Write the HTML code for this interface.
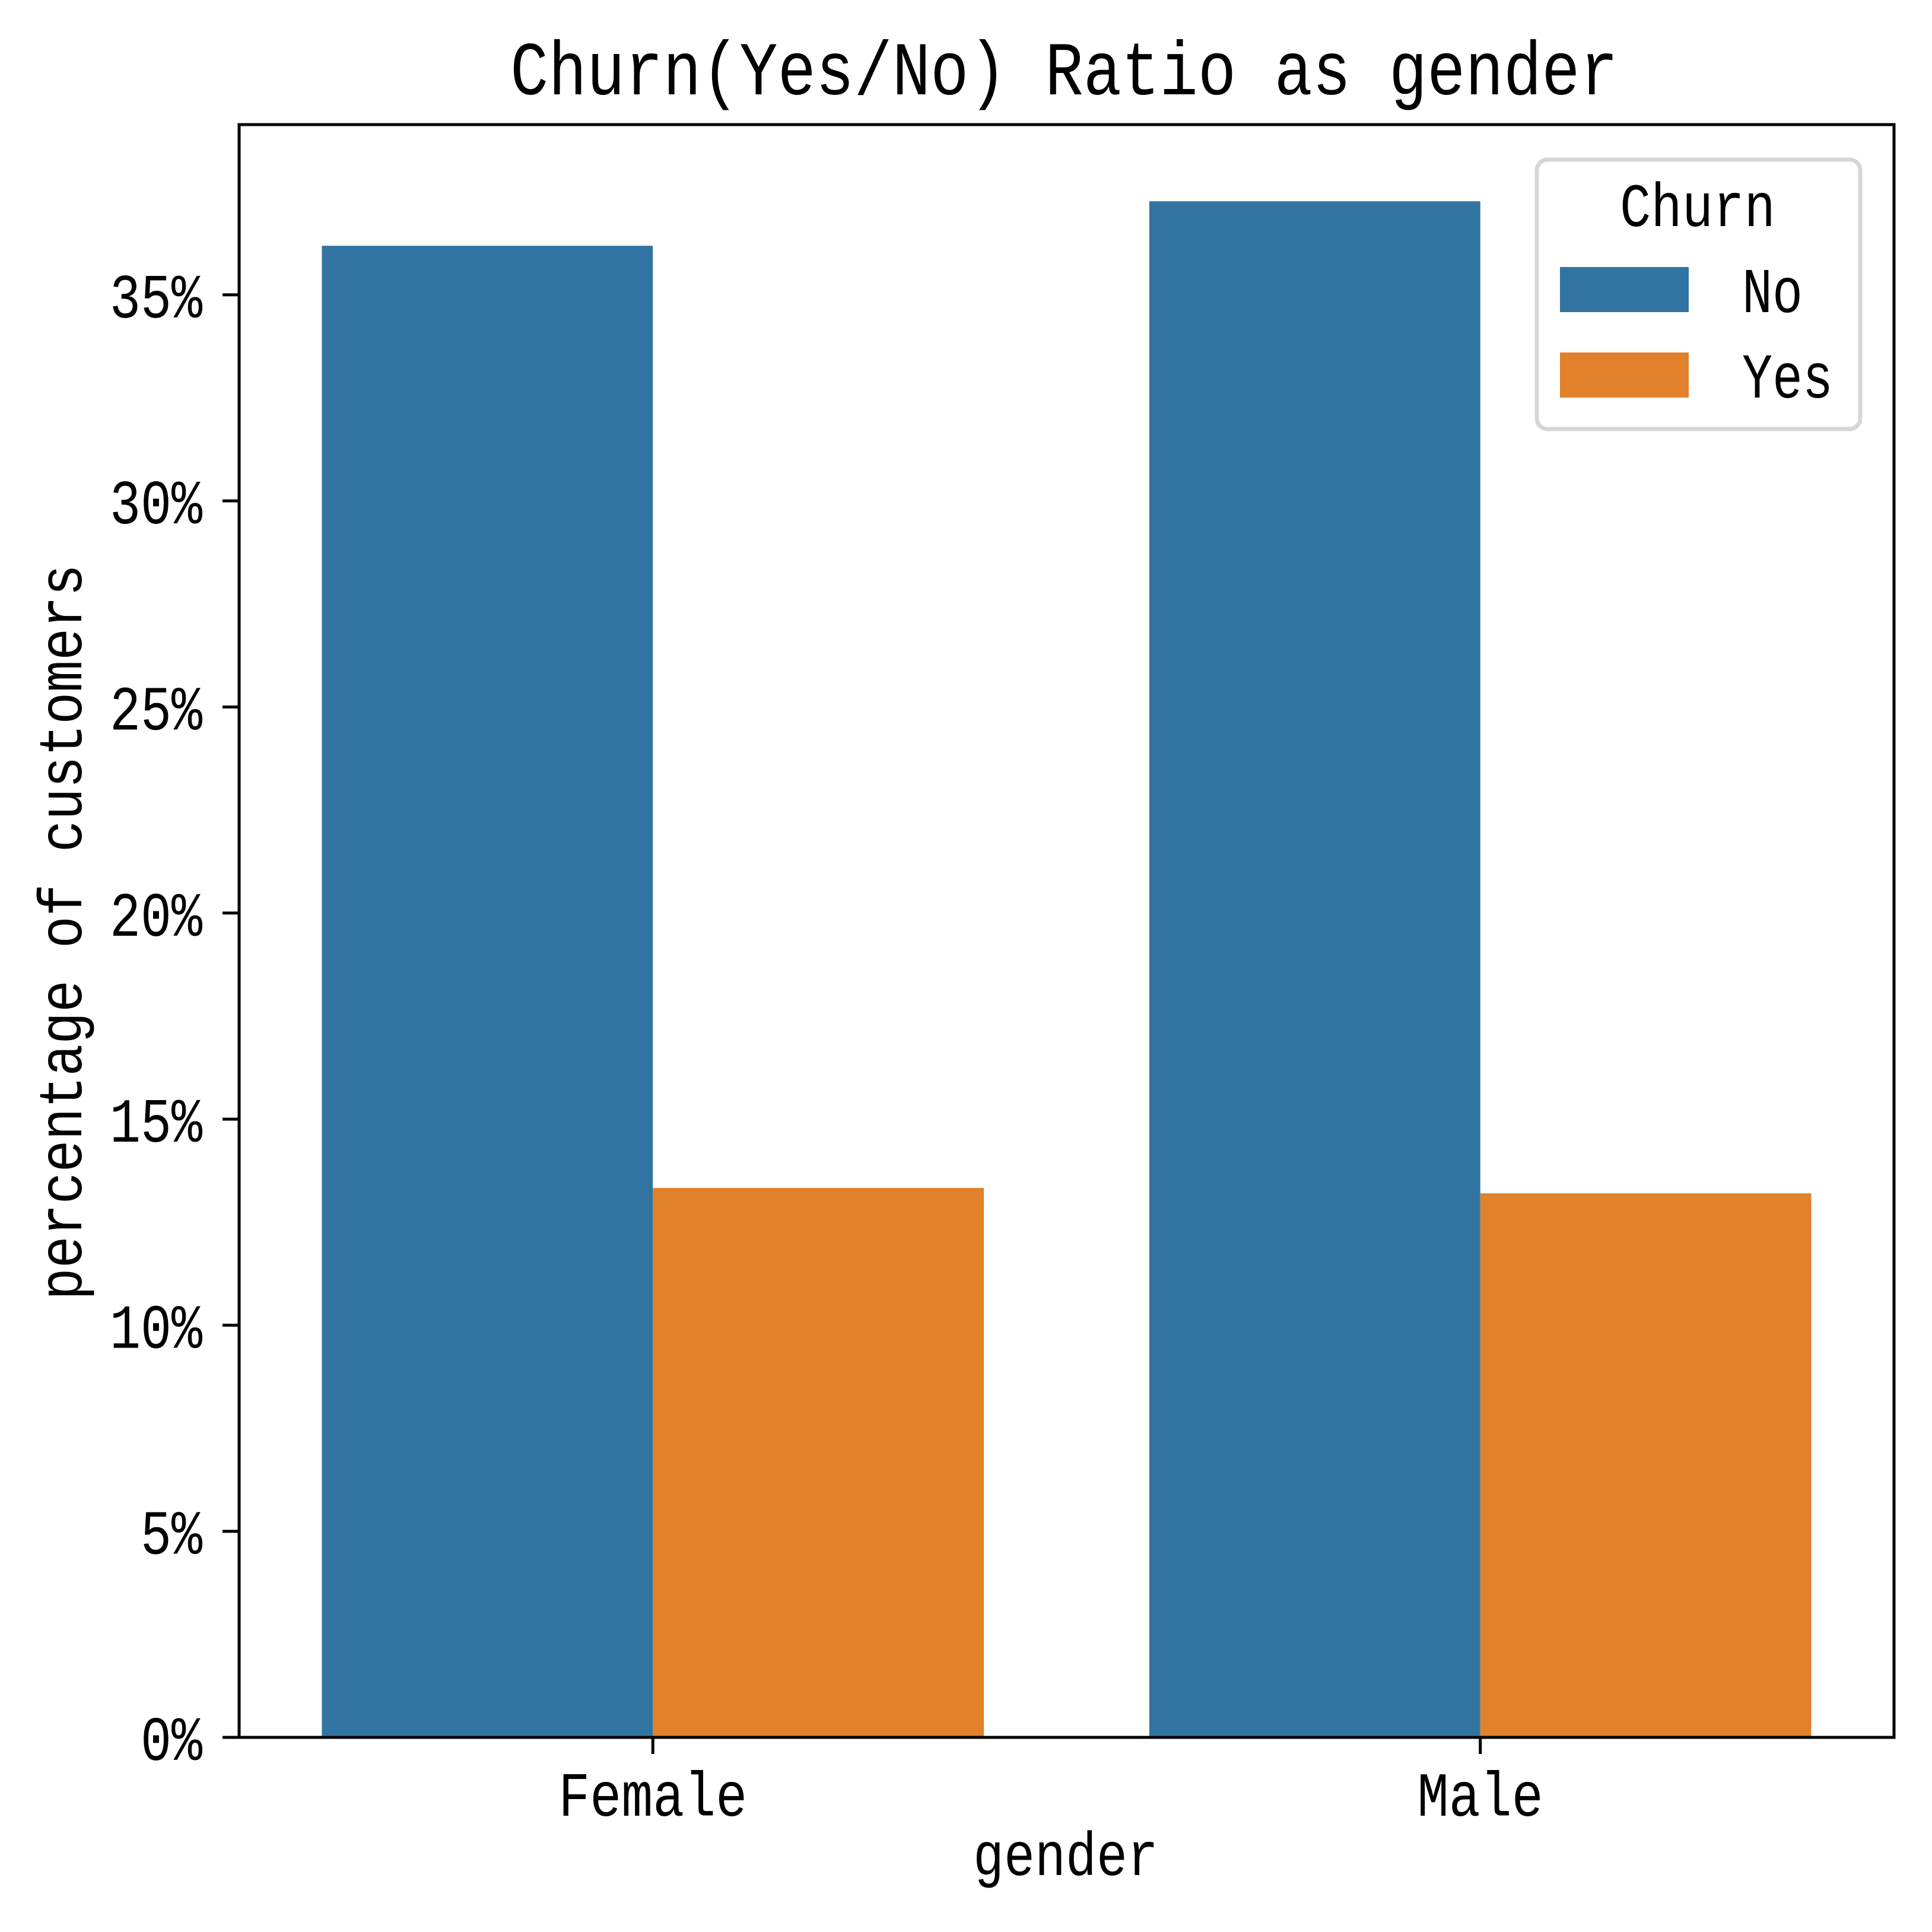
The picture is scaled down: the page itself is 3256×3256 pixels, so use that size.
<!DOCTYPE html>
<html><head><meta charset="utf-8"><style>
html,body{margin:0;padding:0;background:#fff}
svg{display:block}
text{font-family:"Liberation Mono","Noto Sans CJK SC",monospace;fill:#000}
</style></head><body>
<svg id="chart" width="3256" height="3256" viewBox="0 0 3256 3256" xmlns="http://www.w3.org/2000/svg">
<rect width="3256" height="3256" fill="#fff"/>
<text x="860" y="159" font-size="128" textLength="1867" lengthAdjust="spacingAndGlyphs">Churn(Yes/No) Ratio as gender</text>
<g id="bars"></g>
<g id="axes"></g>
<g>
<rect x="2590" y="269" width="545" height="454" rx="18" fill="#fff" stroke="#d6d6d6" stroke-width="7"/>
<text x="2730" y="381" font-size="104" textLength="262" lengthAdjust="spacingAndGlyphs">Churn</text>
<rect x="2629" y="450" width="217" height="76" fill="#3274a1"/>
<text x="2936" y="526" font-size="108" textLength="102" lengthAdjust="spacingAndGlyphs">No</text>
<rect x="2629" y="594" width="217" height="76" fill="#e1812c"/>
<text x="2936" y="670" font-size="108" textLength="153" lengthAdjust="spacingAndGlyphs">Yes</text>
</g>
<text x="1796" y="3160" font-size="104" text-anchor="middle" textLength="312" lengthAdjust="spacingAndGlyphs">gender</text>
<text transform="translate(137,1571) rotate(-90)" font-size="104" text-anchor="middle" textLength="1240" lengthAdjust="spacingAndGlyphs">percentage of customers</text>
</svg>
<script>
const categories = ["Female", "Male"];
const seriesNames = ["No", "Yes"];
const noValues = [36.19, 37.27];
const yesValues = [13.33, 13.20];
const yTicks = [0, 5, 10, 15, 20, 25, 30, 35];
const yTickLabels = ["0%", "5%", "10%", "15%", "20%", "25%", "30%", "35%"];

const L = 403, R = 3192, T = 210, B = 2928, yMax = 39.13;
const NS = "http://www.w3.org/2000/svg";
function yScale(v){ return B - v / yMax * (B - T); }
function xScale(i){ return L + (i + 0.5) / categories.length * (R - L); }
const unit = (R - L) / categories.length;
const barW = unit * 0.4;
function mk(tag, attrs, parent){ const e = document.createElementNS(NS, tag); for (const k in attrs) e.setAttribute(k, attrs[k]); parent.appendChild(e); return e; }
const bars = document.getElementById('bars');
const axes = document.getElementById('axes');
const colors = ["#3274a1", "#e1812c"];
[noValues, yesValues].forEach((vals, s) => {
  vals.forEach((v, i) => {
    const x = xScale(i) - barW + s * barW;
    const r = mk('rect', {x: x, y: yScale(v), width: barW, height: B - yScale(v), fill: colors[s]}, bars);
    
    
  });
});
yTicks.forEach((t, i) => {
  const y = yScale(t);
  const ln = mk('line', {x1: L - 28, x2: L, y1: y, y2: y, stroke: '#000', 'stroke-width': 5}, axes);
  
  
  const lab = yTickLabels[i];
  const tx = mk('text', {x: 341, y: y + 38, 'font-size': 106, 'text-anchor': 'end', textLength: lab.length * 52, lengthAdjust: 'spacingAndGlyphs'}, axes);
  tx.textContent = lab;
  
  
});
categories.forEach((c, i) => {
  const x = xScale(i);
  const ln = mk('line', {x1: x, x2: x, y1: B, y2: B + 28, stroke: '#000', 'stroke-width': 5}, axes);
  
  
  const tx = mk('text', {x: x, y: 3060, 'font-size': 106, 'text-anchor': 'middle', textLength: c.length * 53, lengthAdjust: 'spacingAndGlyphs'}, axes);
  tx.textContent = c;
  
  
});
const frame = mk('rect', {x: L, y: T, width: R - L, height: B - T, fill: 'none', stroke: '#000', 'stroke-width': 5}, axes);


</script>
</body></html>
